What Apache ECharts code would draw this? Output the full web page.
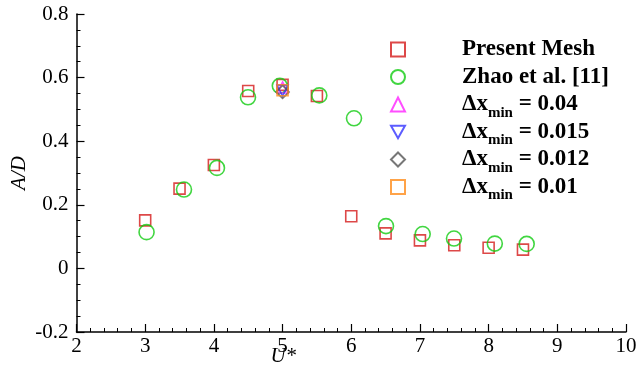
<!DOCTYPE html>
<html><head><meta charset="utf-8">
<script src="https://cdn.jsdelivr.net/npm/echarts@6/dist/echarts.min.js"></script>
<style>html,body{margin:0;padding:0;background:#fff}#c{width:638px;height:369px}</style>
</head><body><div id="c"></div>
<script>
// Present Mesh
const presentU = [3.0, 3.5, 4.0, 4.5, 5.0, 5.5, 6.0, 6.5, 7.0, 7.5, 8.0, 8.5];
const presentA = [0.151, 0.251, 0.325, 0.558, 0.577, 0.542, 0.164, 0.110, 0.088, 0.073, 0.065, 0.059];
// Zhao et al. [11]
const zhaoU = [3.02, 3.565, 4.045, 4.497, 4.96, 5.535, 6.04, 6.506, 7.04, 7.496, 8.09, 8.554];
const zhaoA = [0.114, 0.248, 0.316, 0.538, 0.574, 0.544, 0.472, 0.133, 0.108, 0.094, 0.078, 0.077];
// Mesh sensitivity at U* = 5
const dx004U = [5.0], dx004A = [0.569];
const dx0015U = [5.0], dx0015A = [0.559];
const dx0012U = [5.0], dx0012A = [0.555];
const dx001U = [5.0], dx001A = [0.560];

const xTicks = [2, 3, 4, 5, 6, 7, 8, 9, 10];
const yTicks = [-0.2, 0, 0.2, 0.4, 0.6, 0.8];
const seriesNames = ['Present Mesh', 'Zhao et al. [11]', 'Δx_min = 0.04', 'Δx_min = 0.015', 'Δx_min = 0.012', 'Δx_min = 0.01'];

const zip = (a, b) => a.map((v, i) => [v, b[i]]);
const serif = '"Liberation Serif", "Times New Roman", serif';

const mk = (name, u, a, symbol, color, size, rot) => ({
  name, type: 'scatter', data: zip(u, a), symbol, symbolSize: size, symbolRotate: rot || 0,
  itemStyle: { color: 'rgba(0,0,0,0)', borderColor: color, borderWidth: 1.6 },
  emphasis: { disabled: true }
});

const chart = echarts.init(document.getElementById('c'), null, { renderer: 'canvas' });
chart.setOption({
  animation: false,
  grid: { left: 76.5, right: 12, top: 14, bottom: 37, outerBoundsMode: 'none', containLabel: false },
  xAxis: {
    type: 'value', min: xTicks[0], max: xTicks[xTicks.length - 1], interval: 1,
    name: 'U*', nameLocation: 'middle', nameGap: 14, nameMoveOverlap: false,
    nameTextStyle: { fontFamily: serif, fontStyle: 'italic', fontSize: 21, color: '#000', padding: [0, 136, 0, 0] },
    axisLine: { show: true, onZero: false, lineStyle: { color: '#000', width: 1.5 } },
    axisTick: { show: true, inside: true, length: 8, lineStyle: { color: '#000', width: 1.2 } },
    minorTick: { show: true, splitNumber: 5, length: 4, lineStyle: { color: '#000', width: 1 } },
    axisLabel: { fontFamily: serif, fontSize: 21, color: '#000', margin: 4 },
    splitLine: { show: false }
  },
  yAxis: {
    type: 'value', min: yTicks[0], max: yTicks[yTicks.length - 1], interval: 0.2,
    name: 'A/D', nameLocation: 'middle', nameGap: 47, nameRotate: 90, nameMoveOverlap: false,
    nameTextStyle: { fontFamily: serif, fontStyle: 'italic', fontSize: 21, color: '#000' },
    axisLine: { show: true, onZero: false, lineStyle: { color: '#000', width: 1.5 } },
    axisTick: { show: true, inside: true, length: 8, lineStyle: { color: '#000', width: 1.2 } },
    minorTick: { show: true, splitNumber: 4, length: 4, lineStyle: { color: '#000', width: 1 } },
    axisLabel: { fontFamily: serif, fontSize: 21, color: '#000', margin: 8,
      formatter: v => (Math.abs(v) < 1e-9 ? '0' : String(Math.round(v * 10) / 10)) },
    splitLine: { show: false }
  },
  legend: {
    orient: 'vertical', left: 385, top: 33, itemWidth: 14, itemHeight: 14, itemGap: 0,
    selectedMode: false,
    data: seriesNames.map((n, i) => i === 3
      ? { name: n, icon: 'path://M0,0 L10,0 L5,9 Z' }
      : { name: n }),
    textStyle: {
      fontFamily: serif, fontWeight: 'bold', fontSize: 23, color: '#000', padding: [0, 0, 0, 52],
      rich: {
        b: { fontFamily: serif, fontWeight: 'bold', fontSize: 23, color: '#000', lineHeight: 22 },
        sub: { fontFamily: serif, fontWeight: 'bold', fontSize: 15, color: '#000', lineHeight: 10, verticalAlign: 'bottom', padding: [0, 0, -5, 0] }
      }
    },
    formatter: n => {
      if (n.indexOf('Δx_min') === 0) return '{b|Δx}{sub|min}{b|' + n.slice(6) + '}';
      return '{b|' + n + '}{sub| }';
    }
  },
  series: [
    mk(seriesNames[0], presentU, presentA, 'rect', '#d41a1a', 11),
    mk(seriesNames[1], zhaoU, zhaoA, 'circle', '#11cc11', 15),
    mk(seriesNames[2], dx004U, dx004A, 'triangle', '#ff22ff', 11),
    mk(seriesNames[3], dx0015U, dx0015A, 'triangle', '#3333ff', 11, 180),
    mk(seriesNames[4], dx0012U, dx0012A, 'diamond', '#555555', 13),
    mk(seriesNames[5], dx001U, dx001A, 'rect', '#ff8c1a', 11)
  ]
});
</script></body></html>
